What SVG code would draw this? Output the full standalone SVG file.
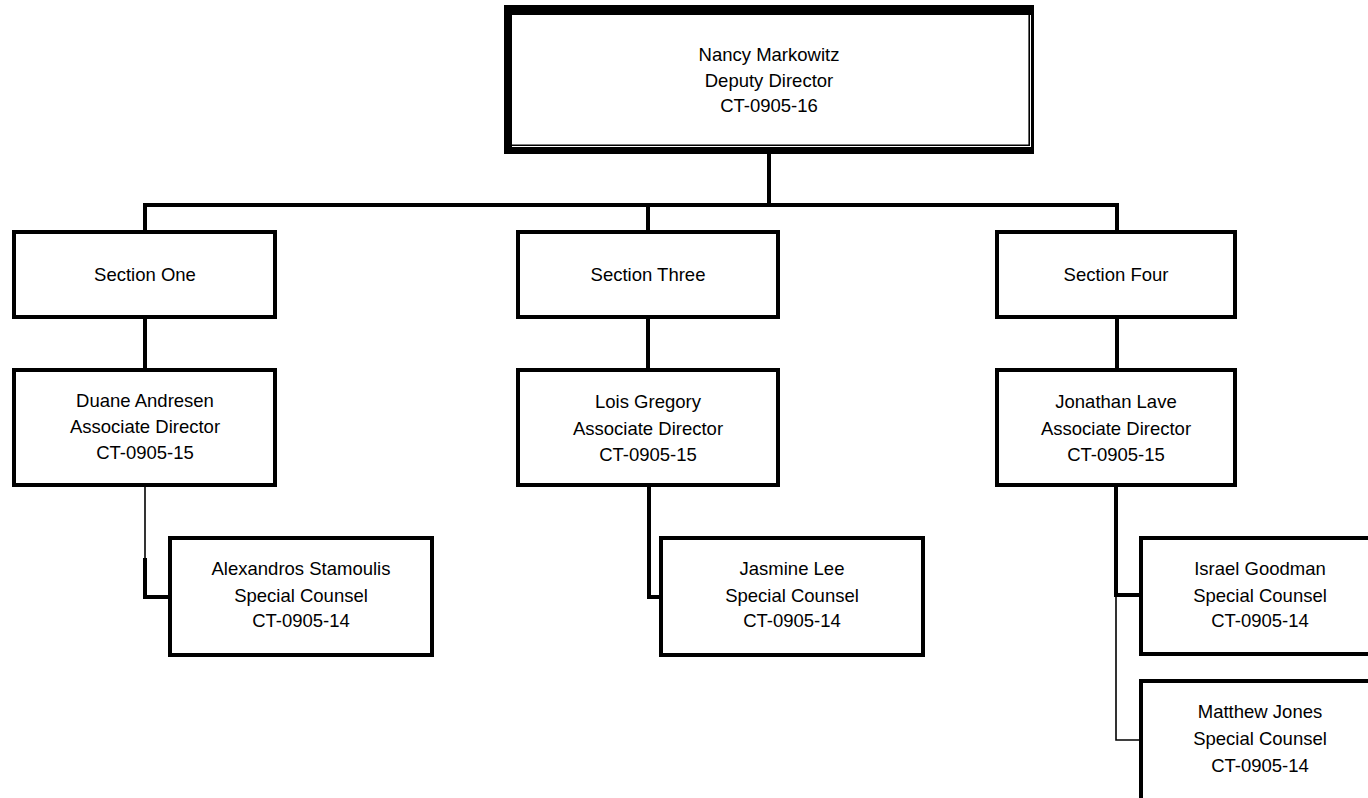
<svg xmlns="http://www.w3.org/2000/svg" width="1368" height="798" viewBox="0 0 1368 798">
  <style>
    .box { fill: #fff; stroke: #000; stroke-width: 4; }
    .lbl { font-family: "Liberation Sans", Arial, sans-serif; font-size: 18.5px; fill: #000; text-anchor: middle; }
    .wire { fill: none; stroke: #000; stroke-width: 4; }
    .thin { fill: none; stroke: #000; stroke-width: 1.6; }
  </style>
  <rect width="1368" height="798" fill="#fff"/>

  <!-- reporting lines -->
  <g id="connectors">
    <path class="wire" d="M769 153 V205"/>
    <path class="wire" d="M143 205 H1119"/>
    <path class="wire" d="M145 203 V232 M648 203 V232 M1117 203 V232"/>
    <path class="wire" d="M145 317 V370 M648 317 V370 M1117 317 V370"/>
    <path class="thin" d="M145 485 V559"/>
    <path class="wire" d="M145 558 V597 H170"/>
    <path class="wire" d="M649 485 V597 H661"/>
    <path class="wire" d="M1116 485 V595 H1141"/>
    <path class="thin" d="M1116 595 V740 H1141"/>
  </g>

  <!-- Deputy Director (double frame) -->
  <g id="nancy-markowitz">
    <rect x="504" y="5" width="530" height="149" fill="#000"/>
    <rect x="512" y="15" width="519" height="132" fill="#fff"/>
    <path d="M512 145.2 H1029.2 V15" fill="none" stroke="#000" stroke-width="1.6"/>
    <text class="lbl" x="769" y="61">Nancy Markowitz</text>
    <text class="lbl" x="769" y="86.5">Deputy Director</text>
    <text class="lbl" x="769" y="112">CT-0905-16</text>
  </g>

  <g id="section-one">
    <rect class="box" x="14" y="232" width="261" height="85"/>
    <text class="lbl" x="145" y="281">Section One</text>
  </g>
  <g id="section-three">
    <rect class="box" x="518" y="232" width="260" height="85"/>
    <text class="lbl" x="648" y="281">Section Three</text>
  </g>
  <g id="section-four">
    <rect class="box" x="997" y="232" width="238" height="85"/>
    <text class="lbl" x="1116" y="281">Section Four</text>
  </g>

  <g id="duane-andresen">
    <rect class="box" x="14" y="370" width="261" height="115"/>
    <text class="lbl" x="145" y="407">Duane Andresen</text>
    <text class="lbl" x="145" y="433">Associate Director</text>
    <text class="lbl" x="145" y="459">CT-0905-15</text>
  </g>
  <g id="lois-gregory">
    <rect class="box" x="518" y="370" width="260" height="115"/>
    <text class="lbl" x="648" y="408">Lois Gregory</text>
    <text class="lbl" x="648" y="434.5">Associate Director</text>
    <text class="lbl" x="648" y="461">CT-0905-15</text>
  </g>
  <g id="jonathan-lave">
    <rect class="box" x="997" y="370" width="238" height="115"/>
    <text class="lbl" x="1116" y="408">Jonathan Lave</text>
    <text class="lbl" x="1116" y="434.5">Associate Director</text>
    <text class="lbl" x="1116" y="461">CT-0905-15</text>
  </g>

  <g id="alexandros-stamoulis">
    <rect class="box" x="170" y="538" width="262" height="117"/>
    <text class="lbl" x="301" y="575">Alexandros Stamoulis</text>
    <text class="lbl" x="301" y="601.5">Special Counsel</text>
    <text class="lbl" x="301" y="627">CT-0905-14</text>
  </g>
  <g id="jasmine-lee">
    <rect class="box" x="661" y="538" width="262" height="117"/>
    <text class="lbl" x="792" y="575">Jasmine Lee</text>
    <text class="lbl" x="792" y="601.5">Special Counsel</text>
    <text class="lbl" x="792" y="627">CT-0905-14</text>
  </g>
  <g id="israel-goodman">
    <rect class="box" x="1141" y="538" width="240" height="116"/>
    <text class="lbl" x="1260" y="575">Israel Goodman</text>
    <text class="lbl" x="1260" y="601.5">Special Counsel</text>
    <text class="lbl" x="1260" y="627">CT-0905-14</text>
  </g>
  <g id="matthew-jones">
    <rect class="box" x="1141" y="681" width="240" height="130"/>
    <text class="lbl" x="1260" y="718">Matthew Jones</text>
    <text class="lbl" x="1260" y="745">Special Counsel</text>
    <text class="lbl" x="1260" y="771.5">CT-0905-14</text>
  </g>
</svg>
